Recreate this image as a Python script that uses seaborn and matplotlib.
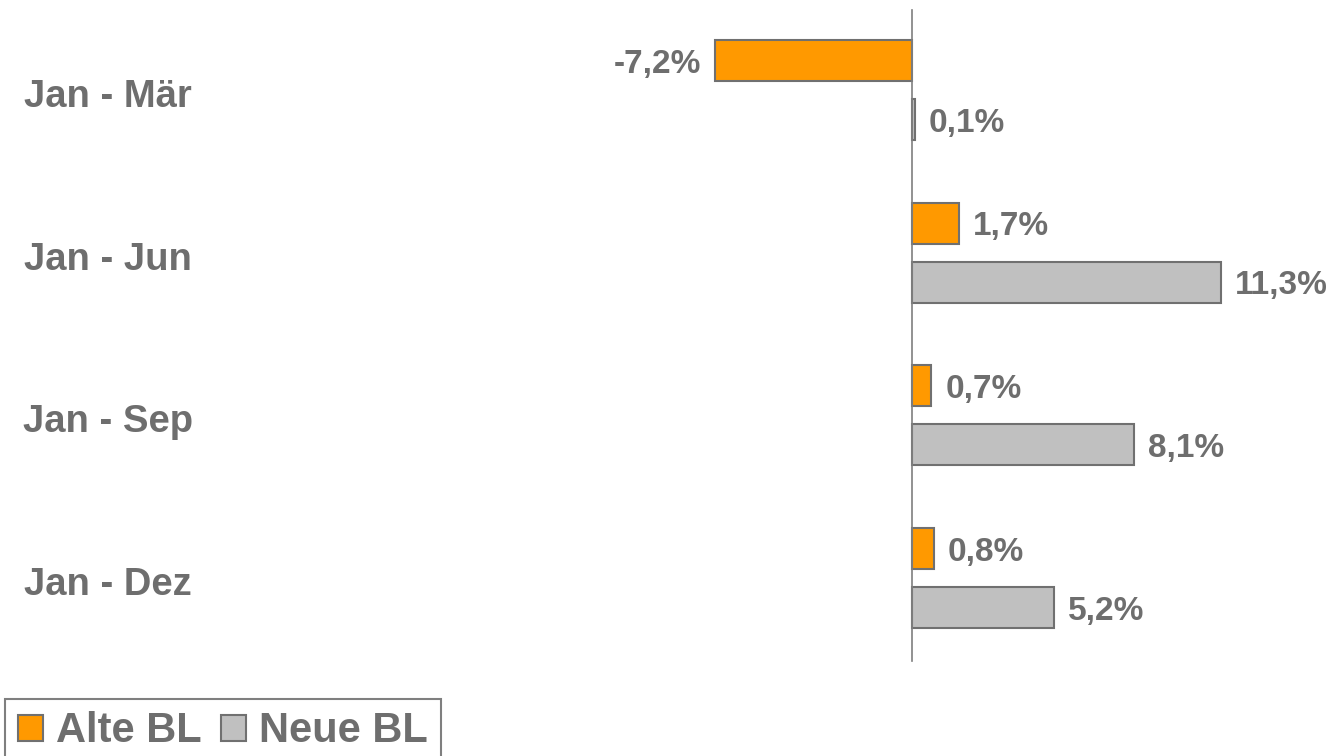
import pandas as pd
import matplotlib.pyplot as plt
import seaborn as sns
from matplotlib.patches import Patch
from matplotlib.transforms import blended_transform_factory

# Data
categories = ['Jan - Mär', 'Jan - Jun', 'Jan - Sep', 'Jan - Dez']
series_names = ['Alte BL', 'Neue BL']
alte_bl = [-7.2, 1.7, 0.7, 0.8]
neue_bl = [0.1, 11.3, 8.1, 5.2]

colors = {'Alte BL': '#FF9900', 'Neue BL': '#C0C0C0'}
text_color = '#6E6E6E'
edge_color = '#707070'

data = pd.DataFrame({
    'Zeitraum': categories * 2,
    'Serie': [series_names[0]] * len(categories) + [series_names[1]] * len(categories),
    'Wert': alte_bl + neue_bl,
})

sns.set_style('white')
plt.rcParams['font.family'] = ['Liberation Sans', 'DejaVu Sans']
plt.rcParams['font.weight'] = 'bold'

fig = plt.figure(figsize=(13.34, 7.56), dpi=100)
ax = fig.add_axes([230 / 1334, 95 / 756, 1100 / 1334, 651 / 756])

sns.barplot(data=data, x='Wert', y='Zeitraum', hue='Serie', hue_order=series_names,
            order=categories, palette=colors, saturation=1, orient='h',
            width=0.726, gap=0.306, edgecolor=edge_color, linewidth=1.5,
            legend=False, ax=ax)

# Value labels with German decimal comma
for container, vals in zip(ax.containers, [alte_bl, neue_bl]):
    labels = [f'{v:.1f}%'.replace('.', ',') for v in vals]
    texts = ax.bar_label(container, labels=labels, padding=10, fontsize=24,
                         fontweight='bold', color=text_color)
    for t in texts:
        t.set_verticalalignment('center_baseline')

ax.set_xlim(-24.94, 15.28)
ax.set_ylim(3.51, -0.492)
ax.set_xticks([])
ax.set_yticks([])
ax.set_xlabel('')
ax.set_ylabel('')

for side in ['top', 'right', 'bottom']:
    ax.spines[side].set_visible(False)
ax.spines['left'].set_position(('data', 0))
ax.spines['left'].set_color('#7F7F7F')
ax.spines['left'].set_linewidth(1.2)

# Category labels, centered in the left margin
trans = blended_transform_factory(fig.transFigure, ax.transData)
for i, cat in enumerate(categories):
    ax.text(108 / 1334, i + 0.018, cat, transform=trans, ha='center', va='center_baseline',
            fontsize=27.5, fontweight='bold', color=text_color)

# Legend box, its lower edge runs off the bottom of the image
handles = [Patch(facecolor=colors[s], edgecolor=edge_color, linewidth=1.5, label=s)
           for s in series_names]
leg = fig.legend(handles=handles, loc='upper left', bbox_to_anchor=(5 / 1334, 57 / 756),
                 ncol=2, frameon=True, fancybox=False, framealpha=1,
                 borderaxespad=0, borderpad=0.3, handlelength=0.6, handleheight=0.6,
                 handletextpad=0.33, columnspacing=0.45,
                 prop={'size': 30, 'weight': 'bold'})
leg.get_frame().set_edgecolor('#7F7F7F')
leg.get_frame().set_linewidth(1.5)
for t in leg.get_texts():
    t.set_color(text_color)

fig.savefig('out.png', dpi=100)
